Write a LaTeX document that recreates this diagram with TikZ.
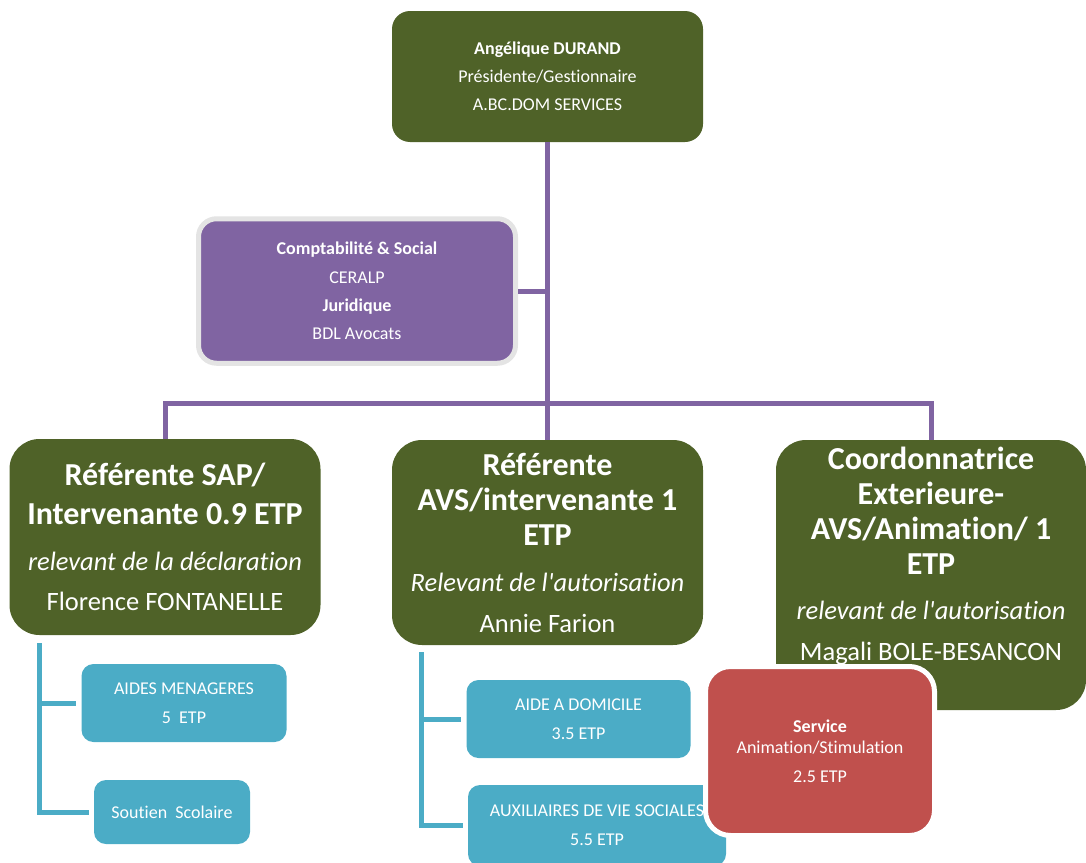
\documentclass[tikz,border=0pt]{standalone}
\usepackage{fontspec}
\setmainfont{Carlito}[Ligatures=NoCommon]

\definecolor{boxgreen}{HTML}{4F6228}
\definecolor{boxpurple}{HTML}{8064A2}
\definecolor{boxblue}{HTML}{4BACC6}
\definecolor{boxred}{HTML}{C0504D}
\definecolor{ringgray}{HTML}{E4E4E4}

\newcommand{\setf}[2]{\fontsize{#1}{#2}\selectfont}

\begin{document}
\begin{tikzpicture}[x=1pt,y=-1pt,
    greenbox/.style={fill=boxgreen},
    bluebox/.style={fill=boxblue,rounded corners=12pt,font=\setf{18}{29}},
    purpleline/.style={draw=boxpurple,line width=5pt},
    blueline/.style={draw=boxblue,line width=5pt,shorten >=5pt}]

  \useasboundingbox (0,0) rectangle (1086,862);

  \begin{scope}[every node/.style={rectangle,text=white,inner sep=0pt,
      execute at begin node={\spaceskip=0pt\xspaceskip=0pt\centering}}]
    % direction
    \node[greenbox,rounded corners=18pt,minimum width=311pt,minimum height=131pt,text width=300pt,font=\setf{18}{28}]
      (1) at (547.5,76.5) {\bfseries Angélique DURAND\par \mdseries Présidente/Gestionnaire\par A.BC.DOM SERVICES\par};
    \node[fill=boxpurple,draw=ringgray,line width=5pt,rounded corners=18pt,minimum width=317pt,minimum height=144.5pt,text width=300pt,font=\setf{18}{28.3}]
      (2) at (357,291) {\bfseries Comptabilité \& Social\par \mdseries CERALP\par \bfseries Juridique\par \mdseries BDL Avocats\par};

    % referentes
    \node[greenbox,rounded corners=30pt,minimum width=311pt,minimum height=196pt,text width=305pt]
      (3) at (165,537) {\setf{32}{39}\bfseries Référente SAP/\par Intervenante 0.9 ETP\par
        \setf{26.5}{46}\mdseries\itshape relevant de la déclaration\par \setf{26.5}{40}\upshape Florence FONTANELLE\par};
    \node[greenbox,rounded corners=30pt,minimum width=311pt,minimum height=205pt,text width=305pt]
      (4) at (547.5,542.5) {\setf{32}{35}\bfseries Référente\par AVS/intervenante 1\par ETP\par
        \setf{26.5}{46}\mdseries\itshape Relevant de l\textquotesingle autorisation\par \setf{26.5}{41}\upshape Annie Farion\par};
    \node[greenbox,rounded corners=30pt,minimum width=310pt,minimum height=270pt,text width=300pt]
      (5) at (931,575) {\setf{32}{35}\bfseries Coordonnatrice\par Exterieure-\par AVS/Animation/ 1\par ETP\par
        \setf{26.5}{45}\mdseries\itshape relevant de l\textquotesingle autorisation\par \setf{26.5}{41}\upshape Magali BOLE-BESANCON\par
        \setf{26.5}{42}\rule{0pt}{1pt}\par};

    % services
    \node[bluebox,minimum width=205pt,minimum height=78pt,text width=195pt] (6) at (184,703) {AIDES MENAGERES\par 5\ \ ETP\par};
    \node[bluebox,minimum width=156pt,minimum height=64pt,text width=150pt] (7) at (172,812) {Soutien\ \ Scolaire\par};
    \node[bluebox,minimum width=224pt,minimum height=78pt,text width=215pt] (8) at (578.5,719) {AIDE A DOMICILE\par 3.5 ETP\par};
    \node[bluebox,minimum width=258pt,minimum height=81pt,text width=250pt] (9) at (597,825.5) {AUXILIAIRES DE VIE SOCIALES\par 5.5 ETP\par};
    \node[fill=boxred,draw=white,line width=5pt,rounded corners=25pt,minimum width=229pt,minimum height=169pt,text width=220pt]
      (10) at (820,751) {\setf{18}{21}\bfseries Service\par \setf{18}{21}\mdseries Animation/Stimulation\par \setf{18}{29}2.5 ETP\par};
  \end{scope}

  \coordinate (h) at (547.5,403);
  \coordinate (a) at (39,643);
  \coordinate (b) at (421.5,652);

  \begin{scope}[on background layer/.try]
    \path[purpleline] (1.south) -- (h);
    \path[purpleline] (3.north) |- (h) -| (5.north);
    \path[purpleline] (h) -- (4.north);
    \path[purpleline] (2.east) -- (2.east -| h);
    \path[blueline] (a) |- (6.west);
    \path[blueline] (a) |- (7.west);
    \path[blueline] (b) |- (8.west);
    \path[blueline] (b) |- (9.west);
  \end{scope}

\end{tikzpicture}
\end{document}
